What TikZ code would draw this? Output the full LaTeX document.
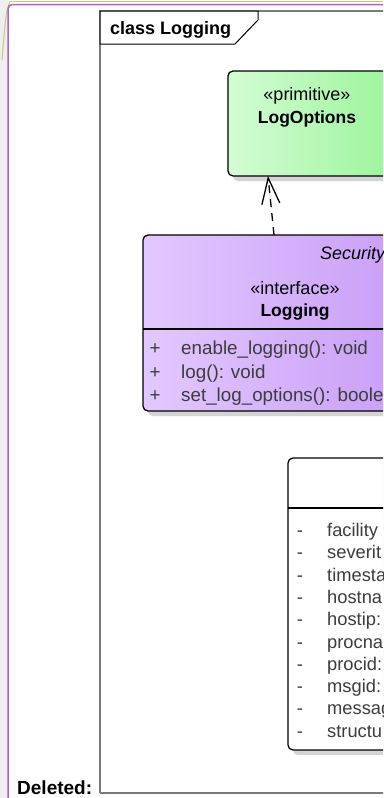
\documentclass[tikz,border=0pt]{standalone}
\usepackage{fontspec}
\setmainfont{Liberation Sans}
\usetikzlibrary{arrows.meta,shadows}
\definecolor{greenL}{HTML}{D4FCD4}
\definecolor{greenR}{HTML}{9CF59C}
\definecolor{purL}{HTML}{E2C8FF}
\definecolor{purR}{HTML}{C596F5}
\definecolor{txtgray}{HTML}{3C3C3C}
\definecolor{framegray}{HTML}{7A7A7A}
\definecolor{edgepurple}{HTML}{B060C8}
\definecolor{edgeyellow}{HTML}{C8C880}
\definecolor{leftgray}{HTML}{EFEFEF}
\definecolor{shadowgray}{HTML}{D4D4D4}
\begin{document}
\begin{tikzpicture}[x=1pt,y=-1pt,
  classbox/.style={draw=black, line width=1.3pt, rounded corners=5pt, anchor=north west,
    inner sep=0pt, outer sep=0pt,
    drop shadow={shadow xshift=5pt, shadow yshift=-5pt, fill=shadowgray, opacity=1}},
  reg/.style={font=\fontsize{18}{20}\selectfont, inner sep=0pt},
  bld/.style={font=\bfseries\fontsize{17.5}{20}\selectfont, inner sep=0pt},
  member/.style={font=\fontsize{18.8}{20}\selectfont, text=txtgray, inner sep=0pt, anchor=base west},
  attr/.style={font=\fontsize{18.3}{20}\selectfont, text=txtgray, inner sep=0pt, anchor=base west},
  vis/.style={anchor=base},
  dep/.style={line width=1.3pt, dash pattern=on 8pt off 6pt,
    -{Straight Barb[length=26pt,width=18pt,line width=1.3pt]}}
]
\useasboundingbox (0,0) rectangle (383,798);
\clip (0,0) rectangle (383,798);
\fill[white] (0,0) rectangle (383,798);
% window edge
\fill[leftgray] (0,0) rectangle (7.5,798);
\draw[edgeyellow, line width=1.2pt] (10,1.3) -- (383,1.3);
\draw[edgeyellow, line width=1pt] (10,1.3) .. controls (6,12) .. (2,60);
\draw[edgepurple, line width=1.5pt, rounded corners=4pt] (8.2,800) -- (8.2,4.5) -- (390,4.5);
% frame
\draw[framegray, line width=1.6pt] (100,793) -- (100,11) -- (395,11);
\draw[framegray, line width=1.6pt] (100,793) -- (395,793);
\filldraw[fill=white, draw=black, line width=1pt] (100,11) -- (258,11) -- (258,20) -- (235,44) -- (100,44) -- cycle;
\node[font=\bfseries\fontsize{18}{20}\selectfont, inner sep=0pt, anchor=base west] (title) at (110,34.5) {class Logging};
\node[font=\bfseries\fontsize{19}{20}\selectfont, inner sep=0pt, anchor=base west] (deleted) at (17,794.5) {Deleted:};
% LogOptions
\node[classbox, left color=greenL, right color=greenR, minimum width=164pt, minimum height=105pt] (logopt) at (228,71) {};
\node[reg, anchor=base] (prim) at (307,100.5) {«primitive»};
\node[bld, anchor=base] (logoptname) at (307,123.5) {LogOptions};
% Logging interface
\node[classbox, left color=purL, right color=purR, minimum width=310pt, minimum height=176pt] (logging) at (143,235) {};
\draw[black, line width=1.2pt] ([yshift=-94pt]logging.north west) -- ([yshift=-94pt]logging.north east);
\node[font=\itshape\fontsize{18}{20}\selectfont, inner sep=0pt, anchor=base west] (pkg) at (320,259.5) {Security};
\node[reg, anchor=base] (iface) at (295,294.5) {«interface»};
\node[bld, anchor=base] (logname) at (295,316.5) {Logging};
\node[member, vis] (p1) at (155,354.5) {+};
\node[member] (m1) at (181,354.5) {enable\_logging(): void};
\node[member, vis] (p2) at (155,378) {+};
\node[member] (m2) at (181,378) {log(): void};
\node[member, vis] (p3) at (155,401.5) {+};
\node[member] (m3) at (181,401.5) {set\_log\_options(): boole};
% attribute class
\node[classbox, fill=white, minimum width=170pt, minimum height=292pt] (msg) at (288,458) {};
\draw[black, line width=1.2pt] ([yshift=-50pt]msg.north west) -- ([yshift=-50pt]msg.north east);
\foreach \t [count=\i from 0] in {facility,severit,timesta,hostna,hostip:,procna,procid:,msgid:,messag,structu}{
  \node[attr, vis] (d\i) at (300,{536.5+22.3*\i}) {-};
  \node[attr] (a\i) at (327,{536.5+22.3*\i}) {\t};
}
% dependency
\draw[dep] ([xshift=131pt]logging.north west) -- ([xshift=40pt]logopt.south west);
\end{tikzpicture}
\end{document}
